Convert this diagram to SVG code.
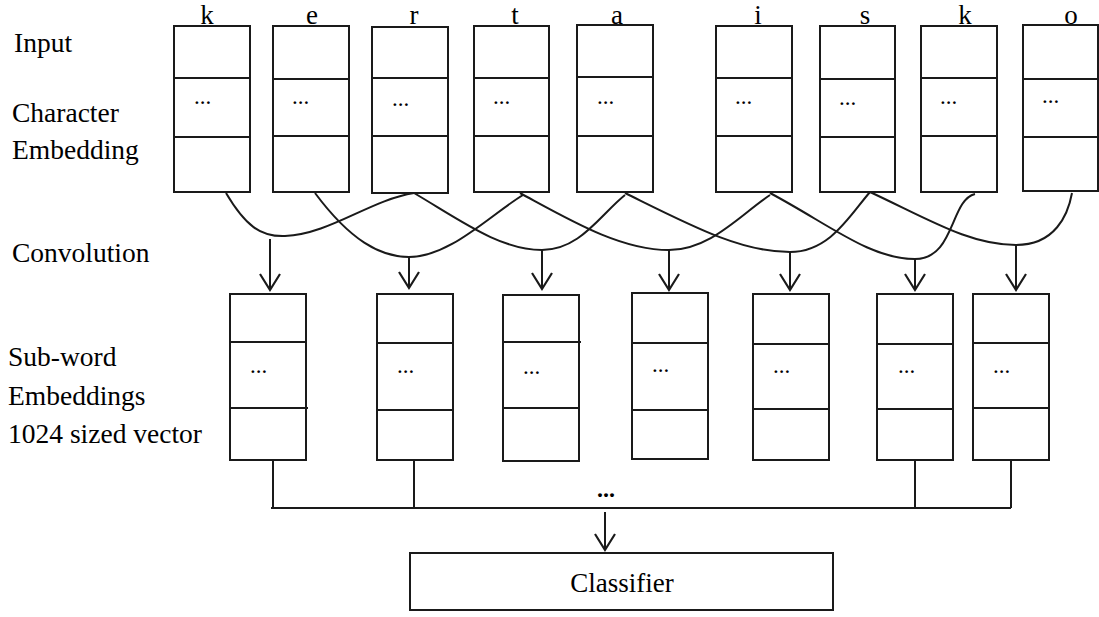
<svg xmlns="http://www.w3.org/2000/svg" width="1099" height="617" viewBox="0 0 1099 617">
<defs>
<style>
.box{fill:#fff;stroke:#1a1a1a;stroke-width:2}
.div{stroke:#1a1a1a;stroke-width:2;fill:none}
.lbl{font-family:"Liberation Serif","Times New Roman",serif;font-size:27.5px;fill:#000}
.ch{font-family:"Liberation Serif","Times New Roman",serif;font-size:27px;fill:#000;text-anchor:middle}
.dots{font-family:"Liberation Serif","Times New Roman",serif;font-size:23px;fill:#000}
.con{fill:none;stroke:#1a1a1a;stroke-width:2}
</style>
<marker id="arr" markerUnits="userSpaceOnUse" markerWidth="40" markerHeight="40" viewBox="-20 -20 40 40" refX="0" refY="0" orient="auto">
<path d="M-16,-10 L0,0 L-16,10" fill="none" stroke="#1a1a1a" stroke-width="2.2"/>
</marker>
</defs>
<rect width="1099" height="617" fill="#fff"/>

<g id="labels">
<text class="lbl" x="14" y="52">Input</text>
<text class="lbl" x="12" y="122">Character</text>
<text class="lbl" x="12" y="159">Embedding</text>
<text class="lbl" x="12" y="262">Convolution</text>
<text class="lbl" x="8" y="366">Sub-word</text>
<text class="lbl" x="8" y="405">Embeddings</text>
<text class="lbl" x="8" y="443">1024 sized vector</text>
</g>

<g id="char-k1"><text class="ch" x="207" y="24">k</text><rect class="box" x="174" y="26" width="76" height="166"/><path class="div" d="M174,78 H250 M174,137 H250"/><text class="dots" x="194" y="104">...</text></g>
<g id="char-e"><text class="ch" x="312" y="24">e</text><rect class="box" x="273" y="26" width="76" height="166"/><path class="div" d="M273,79 H349 M273,136 H349"/><text class="dots" x="292" y="104">...</text></g>
<g id="char-r"><text class="ch" x="414" y="24">r</text><rect class="box" x="372" y="27" width="76" height="166"/><path class="div" d="M372,78 H448 M372,136 H449"/><text class="dots" x="392" y="106">...</text></g>
<g id="char-t"><text class="ch" x="515" y="24">t</text><rect class="box" x="474" y="26" width="75" height="166"/><path class="div" d="M474,78 H549 M474,136 H550"/><text class="dots" x="493" y="104">...</text></g>
<g id="char-a"><text class="ch" x="617" y="24">a</text><rect class="box" x="577" y="25" width="76" height="167"/><path class="div" d="M577,77 H653 M577,136 H653"/><text class="dots" x="597" y="104">...</text></g>
<g id="char-i"><text class="ch" x="758" y="24">i</text><rect class="box" x="716" y="26" width="76" height="166"/><path class="div" d="M716,78 H792 M716,136 H792"/><text class="dots" x="735" y="104">...</text></g>
<g id="char-s"><text class="ch" x="865" y="24">s</text><rect class="box" x="820" y="26" width="75" height="166"/><path class="div" d="M820,79 H895 M820,137 H895"/><text class="dots" x="839" y="105">...</text></g>
<g id="char-k2"><text class="ch" x="965" y="24">k</text><rect class="box" x="921" y="26" width="76" height="166"/><path class="div" d="M921,78 H997 M921,136 H997"/><text class="dots" x="940" y="104">...</text></g>
<g id="char-o"><text class="ch" x="1071" y="24">o</text><rect class="box" x="1023" y="25" width="75" height="166"/><path class="div" d="M1023,79 H1098 M1023,137 H1098"/><text class="dots" x="1042" y="103">...</text></g>

<g id="sub-1"><rect class="box" x="230" y="294" width="76" height="166"/><path class="div" d="M230,342 H307 M230,408 H308"/><text class="dots" x="250" y="373">...</text></g>
<g id="sub-2"><rect class="box" x="377" y="294" width="76" height="166"/><path class="div" d="M376,343 H453 M377,410 H453"/><text class="dots" x="397" y="373">...</text></g>
<g id="sub-3"><rect class="box" x="503" y="295" width="76" height="166"/><path class="div" d="M503,342 H581 M503,408 H579"/><text class="dots" x="523" y="374">...</text></g>
<g id="sub-4"><rect class="box" x="632" y="293" width="76" height="166"/><path class="div" d="M632,343 H709 M632,410 H708"/><text class="dots" x="652" y="372">...</text></g>
<g id="sub-5"><rect class="box" x="753" y="294" width="76" height="166"/><path class="div" d="M753,344 H829 M753,409 H829"/><text class="dots" x="773" y="373">...</text></g>
<g id="sub-6"><rect class="box" x="877" y="294" width="76" height="166"/><path class="div" d="M877,344 H953 M877,409 H953"/><text class="dots" x="898" y="373">...</text></g>
<g id="sub-7"><rect class="box" x="973" y="294" width="76" height="166"/><path class="div" d="M973,343 H1049 M973,408 H1049"/><text class="dots" x="993" y="373">...</text></g>

<g id="classifier"><rect class="box" x="410" y="553" width="423" height="57"/><text class="ch" x="622" y="592">Classifier</text></g>

<g id="connectors">
<path class="con" d="M226,193 C245,225 260,237 285,236 C330,234 370,200 414,193"/>
<path class="con" d="M315,193 C350,240 380,257 409,257 C450,257 490,215 523,195"/>
<path class="con" d="M414,193 C460,220 500,250 542,250 C580,250 600,215 625,195"/>
<path class="con" d="M520,193 C570,220 620,250 669,250 C710,250 740,215 770,195"/>
<path class="con" d="M625,193 C690,225 740,252 790,252 C830,252 850,215 870,192"/>
<path class="con" d="M770,193 C830,225 870,259 915,259 C955,259 950,200 975,194"/>
<path class="con" d="M870,192 C930,220 970,245 1016,245 C1055,245 1068,215 1072,193"/>
<line class="con" x1="270" y1="239" x2="270" y2="290" marker-end="url(#arr)"/>
<line class="con" x1="409" y1="257" x2="409" y2="288" marker-end="url(#arr)"/>
<line class="con" x1="542" y1="250" x2="542" y2="289" marker-end="url(#arr)"/>
<line class="con" x1="669" y1="250" x2="669" y2="290" marker-end="url(#arr)"/>
<line class="con" x1="790" y1="252" x2="790" y2="290" marker-end="url(#arr)"/>
<line class="con" x1="915" y1="259" x2="915" y2="290" marker-end="url(#arr)"/>
<line class="con" x1="1016" y1="245" x2="1016" y2="290" marker-end="url(#arr)"/>
<path class="con" d="M273,460 V508 M414,460 V508 M915,460 V508 M1011,460 V508 M271,508 H1011"/>
<text x="597" y="497" style="font-family:'Liberation Serif',serif;font-size:24px;font-weight:bold">...</text>
<line class="con" x1="605" y1="512" x2="605" y2="550" marker-end="url(#arr)"/>
</g>
</svg>
